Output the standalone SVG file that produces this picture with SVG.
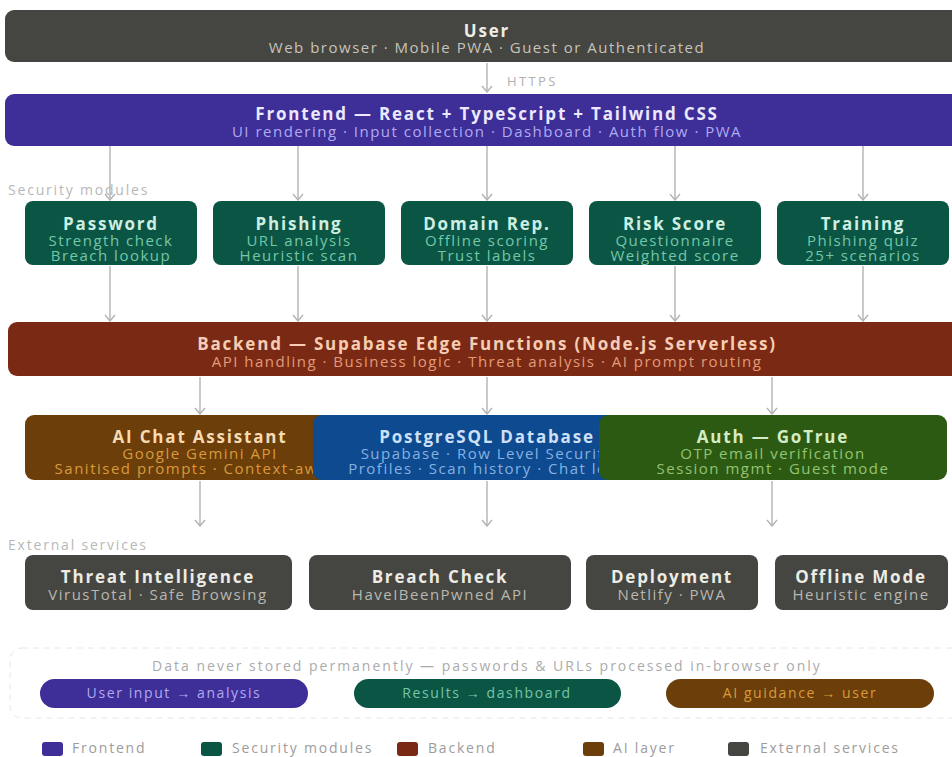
<svg xmlns="http://www.w3.org/2000/svg" width="952" height="757" viewBox="0 0 952 757">
<style>
text{font-family:"Open Sans","Liberation Sans",sans-serif;text-anchor:middle}
.t{font-weight:700;font-size:17px;letter-spacing:1.8px}
.s{font-size:15px;letter-spacing:1.5px}
.lbl{font-size:14px;letter-spacing:1.8px;fill:#b8b8b8;text-anchor:start}
.lg{font-size:14px;letter-spacing:1.8px;fill:#9c9c9c;text-anchor:start}
.pt{font-size:14px;letter-spacing:1.6px}
.c{stroke:#b3b3b3;stroke-width:1.4;fill:none;marker-end:url(#ah)}
.grey{fill:#454541}
.mod{fill:#0b5545}
.mt{fill:#cdeee0}.ms{fill:#74c7a6}
.xt{fill:#ecebe4}.xs{fill:#b9b8b0}
</style>
<defs>
<marker id="ah" viewBox="0 0 8 12" refX="7" refY="6" markerWidth="8" markerHeight="12" markerUnits="userSpaceOnUse" orient="auto">
<path d="M1 1 L7 6 L1 11" fill="none" stroke="#b3b3b3" stroke-width="1.4"/>
</marker>
<clipPath id="clipAi"><rect x="25" y="415" width="288" height="65"/></clipPath>
<clipPath id="clipPg"><rect x="313" y="415" width="286" height="65"/></clipPath>
</defs>
<rect width="952" height="757" fill="#ffffff"/>

<g id="connectors">
<line class="c" x1="487" y1="63" x2="487" y2="92"/>
<text x="507" y="86" style="font-size:13px;letter-spacing:2.4px;fill:#b0b0b0;text-anchor:start">HTTPS</text>
<line class="c" x1="110" y1="146" x2="110" y2="200"/>
<line class="c" x1="298" y1="146" x2="298" y2="200"/>
<line class="c" x1="487" y1="146" x2="487" y2="200"/>
<line class="c" x1="675" y1="146" x2="675" y2="200"/>
<line class="c" x1="863" y1="146" x2="863" y2="200"/>
<line class="c" x1="110" y1="266" x2="110" y2="321"/>
<line class="c" x1="298" y1="266" x2="298" y2="321"/>
<line class="c" x1="487" y1="266" x2="487" y2="321"/>
<line class="c" x1="675" y1="266" x2="675" y2="321"/>
<line class="c" x1="863" y1="266" x2="863" y2="321"/>
<line class="c" x1="200" y1="377" x2="200" y2="414"/>
<line class="c" x1="487" y1="377" x2="487" y2="414"/>
<line class="c" x1="772" y1="377" x2="772" y2="414"/>
<line class="c" x1="200" y1="481" x2="200" y2="526"/>
<line class="c" x1="487" y1="481" x2="487" y2="526"/>
<line class="c" x1="772" y1="481" x2="772" y2="526"/>
</g>

<g id="user">
<rect x="5" y="10" width="980" height="52" rx="9" class="grey"/>
<text x="487" y="37" class="t" fill="#eeede6">User</text>
<text x="487" y="53" class="s" fill="#c5c3bb">Web browser · Mobile PWA · Guest or Authenticated</text>
</g>

<g id="frontend">
<rect x="5" y="94" width="980" height="52" rx="9" fill="#3d2e98"/>
<text x="487" y="120" class="t" fill="#ebe8ff">Frontend — React + TypeScript + Tailwind CSS</text>
<text x="487" y="137" class="s" fill="#b1aaf0">UI rendering · Input collection · Dashboard · Auth flow · PWA</text>
</g>

<text x="8" y="195" class="lbl">Security modules</text>

<g id="password">
<rect x="25" y="201" width="172" height="64" rx="8" class="mod"/>
<text x="111" y="230" class="t mt">Password</text>
<text x="111" y="246" class="s ms">Strength check</text>
<text x="111" y="261" class="s ms">Breach lookup</text>
</g>
<g id="phishing">
<rect x="213" y="201" width="172" height="64" rx="8" class="mod"/>
<text x="299" y="230" class="t mt">Phishing</text>
<text x="299" y="246" class="s ms">URL analysis</text>
<text x="299" y="261" class="s ms">Heuristic scan</text>
</g>
<g id="domain">
<rect x="401" y="201" width="172" height="64" rx="8" class="mod"/>
<text x="487" y="230" class="t mt">Domain Rep.</text>
<text x="487" y="246" class="s ms">Offline scoring</text>
<text x="487" y="261" class="s ms">Trust labels</text>
</g>
<g id="risk">
<rect x="589" y="201" width="172" height="64" rx="8" class="mod"/>
<text x="675" y="230" class="t mt">Risk Score</text>
<text x="675" y="246" class="s ms">Questionnaire</text>
<text x="675" y="261" class="s ms">Weighted score</text>
</g>
<g id="training">
<rect x="777" y="201" width="172" height="64" rx="8" class="mod"/>
<text x="863" y="230" class="t mt">Training</text>
<text x="863" y="246" class="s ms">Phishing quiz</text>
<text x="863" y="261" class="s ms">25+ scenarios</text>
</g>

<g id="backend">
<rect x="8" y="322" width="980" height="54" rx="9" fill="#7a2a14"/>
<text x="487" y="350" class="t" fill="#f6cdb4">Backend — Supabase Edge Functions (Node.js Serverless)</text>
<text x="487" y="367" class="s" fill="#e39a78">API handling · Business logic · Threat analysis · AI prompt routing</text>
</g>

<g id="ai">
<rect x="25" y="415" width="350" height="65" rx="9" fill="#6b3e0a"/>
<g clip-path="url(#clipAi)">
<text x="200" y="443" class="t" fill="#f6dbb5">AI Chat Assistant</text>
<text x="200" y="459" class="s" fill="#d99a3c">Google Gemini API</text>
<text x="200" y="474" class="s" fill="#d99a3c">Sanitised prompts · Context-aware</text>
</g>
</g>
<g id="postgres">
<rect x="313" y="415" width="348" height="65" rx="9" fill="#0d4a8f"/>
<g clip-path="url(#clipPg)">
<text x="487" y="443" class="t" fill="#cde0f7">PostgreSQL Database</text>
<text x="487" y="459" class="s" fill="#86b1e2">Supabase · Row Level Security</text>
<text x="487" y="474" class="s" fill="#86b1e2">Profiles · Scan history · Chat logs</text>
</g>
</g>
<g id="auth">
<rect x="599" y="415" width="348" height="65" rx="9" fill="#2d5a12"/>
<text x="773" y="443" class="t" fill="#d4ecc4">Auth — GoTrue</text>
<text x="773" y="459" class="s" fill="#93c472">OTP email verification</text>
<text x="773" y="474" class="s" fill="#93c472">Session mgmt · Guest mode</text>
</g>

<text x="8" y="550" class="lbl">External services</text>

<g id="threat">
<rect x="25" y="555" width="267" height="55" rx="8" class="grey"/>
<text x="158" y="583" class="t xt">Threat Intelligence</text>
<text x="158" y="600" class="s xs">VirusTotal · Safe Browsing</text>
</g>
<g id="breach">
<rect x="309" y="555" width="262" height="55" rx="8" class="grey"/>
<text x="440" y="583" class="t xt">Breach Check</text>
<text x="440" y="600" class="s xs">HaveIBeenPwned API</text>
</g>
<g id="deploy">
<rect x="586" y="555" width="172" height="55" rx="8" class="grey"/>
<text x="672" y="583" class="t xt">Deployment</text>
<text x="672" y="600" class="s xs">Netlify · PWA</text>
</g>
<g id="offline">
<rect x="775" y="555" width="173" height="55" rx="8" class="grey"/>
<text x="861" y="583" class="t xt">Offline Mode</text>
<text x="861" y="600" class="s xs">Heuristic engine</text>
</g>

<g id="note">
<rect x="10" y="648" width="960" height="70" rx="12" fill="none" stroke="#e6e6e6" stroke-dasharray="6 5"/>
<text x="487" y="671" style="font-size:14px;letter-spacing:2px;fill:#ababab">Data never stored permanently — passwords &amp; URLs processed in-browser only</text>
</g>
<g id="pill-input">
<rect x="40" y="679" width="268" height="29" rx="14.5" fill="#3d2e98"/>
<text x="174" y="698" class="pt" fill="#b1aaf0">User input → analysis</text>
</g>
<g id="pill-results">
<rect x="354" y="679" width="267" height="29" rx="14.5" fill="#0b5545"/>
<text x="487" y="698" class="pt" fill="#74c7a6">Results → dashboard</text>
</g>
<g id="pill-ai">
<rect x="666" y="679" width="268" height="29" rx="14.5" fill="#6b3e0a"/>
<text x="800" y="698" class="pt" fill="#d99a3c">AI guidance → user</text>
</g>

<g id="legend">
<rect x="42" y="742" width="21" height="14" rx="3" fill="#3d2e98"/>
<text x="72" y="753" class="lg">Frontend</text>
<rect x="201" y="742" width="21" height="14" rx="3" fill="#0b5545"/>
<text x="232" y="753" class="lg">Security modules</text>
<rect x="397" y="742" width="21" height="14" rx="3" fill="#7a2a14"/>
<text x="428" y="753" class="lg">Backend</text>
<rect x="583" y="742" width="21" height="14" rx="3" fill="#6b3e0a"/>
<text x="613" y="753" class="lg">AI layer</text>
<rect x="728" y="742" width="21" height="14" rx="3" fill="#454541"/>
<text x="760" y="753" class="lg">External services</text>
</g>
</svg>
